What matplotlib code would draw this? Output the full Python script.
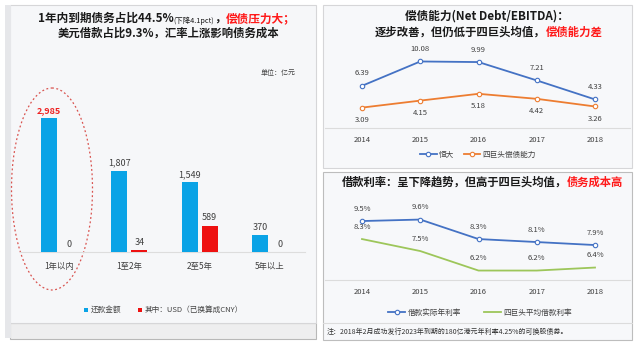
import matplotlib
matplotlib.use("Agg")
import matplotlib.pyplot as plt
from matplotlib.patches import Rectangle, Ellipse
import numpy as np

plt.rcParams['font.family'] = ['Noto Sans CJK SC', 'DejaVu Sans']

# ---------------- data ----------------
maturity_cats = ["1年以内", "1至2年", "2至5年", "5年以上"]
repay_total = [2985, 1807, 1549, 370]
repay_usd = [0, 34, 589, 0]

years = [2014, 2015, 2016, 2017, 2018]
evergrande_nd_ebitda = [6.39, 10.08, 9.99, 7.21, 4.33]
big4_nd_ebitda = [3.09, 4.15, 5.18, 4.42, 3.26]

evergrande_rate = [9.5, 9.6, 8.3, 8.1, 7.9]
big4_rate = [8.3, 7.5, 6.2, 6.2, 6.4]

W, H = 640, 348
fig = plt.figure(figsize=(6.4, 3.48), dpi=100, facecolor='white')

def fx(x): return x / W
def fy(y): return 1 - y / H
def rect(x0, y0, x1, y1):
    return [fx(x0), fy(y1), (x1 - x0) / W, (y1 - y0) / H]

bg = fig.add_axes([0, 0, 1, 1], zorder=0)
bg.set_xlim(0, W); bg.set_ylim(H, 0); bg.axis('off')

# panels
bg.add_patch(Rectangle((10, 323), 306, 16, facecolor='#eeeeef', edgecolor='#b8b8b8', lw=0.8))
bg.add_patch(Rectangle((10, 5), 306, 318, facecolor='#f6f7f9', edgecolor='#d6d6d8', lw=0.8))
bg.add_patch(Rectangle((5, 5), 6, 333, facecolor='#e6e7ea', edgecolor='none'))
bg.add_patch(Rectangle((323, 5), 309, 163, facecolor='#f7f8fa', edgecolor='#d6d6d8', lw=0.8))
bg.add_patch(Rectangle((323, 172), 309, 168, facecolor='#f7f8fa', edgecolor='#bdbdbd', lw=0.8))
bg.plot([323, 632], [323, 323], color='#dcdcdc', lw=0.8)

BLACK = '#1a1a1a'
RED = '#ff1a1a'

def chain(pieces, x, y):
    """pieces: list of (text, size, color, weight)"""
    prev = None
    for s, size, color, weight in pieces:
        if prev is None:
            prev = bg.text(x, y, s, fontsize=size, color=color, fontweight=weight,
                           ha='left', va='baseline')
        else:
            prev = bg.annotate(s, xy=(1, 0), xycoords=prev, fontsize=size, color=color,
                               fontweight=weight, ha='left', va='bottom')

# ---------------- left panel titles ----------------
chain([("1年内到期债务占比44.5%", 8.4, BLACK, 'bold'),
       ("(下降4.1pct)", 5.3, BLACK, 'normal'),
       ("，", 8.4, BLACK, 'bold'),
       ("偿债压力大；", 8.4, RED, 'bold')], 38, 22)
chain([("美元借款占比9.3%，汇率上涨影响债务成本", 8.2, BLACK, 'bold')], 58, 37)
bg.text(296, 73, "单位：亿元", fontsize=5, color='#444444', ha='right', va='center')

# ---------------- left bar chart ----------------
axL = fig.add_axes(rect(20, 80, 305, 252), zorder=2)
axL.patch.set_alpha(0)
x = np.arange(len(maturity_cats))
spacing = 70.33
axL.set_xlim((20 - 59) / spacing, (305 - 59) / spacing)
axL.set_ylim(0, 172 / 134 * 2985)
bw = 16 / spacing
off = 10 / spacing
axL.bar(x - off, repay_total, width=bw, color='#0aa3e6', zorder=3)
axL.bar(x + off, repay_usd, width=bw, color='#ee1111', zorder=3)
for i, v in enumerate(repay_total):
    if i == 0:
        axL.text(x[i] - off, v + 70, f"{v:,}", ha='center', va='bottom', fontsize=6.5,
                 color='#ee2222', fontweight='bold')
    else:
        axL.text(x[i] - off, v + 70, f"{v:,}", ha='center', va='bottom', fontsize=6.5,
                 color='#404040')
for i, v in enumerate(repay_usd):
    axL.text(x[i] + off, v + 70, f"{v:,}", ha='center', va='bottom', fontsize=6.5,
             color='#404040')
for s in ['top', 'right', 'left']:
    axL.spines[s].set_visible(False)
axL.spines['bottom'].set_color('#dddddd')
axL.spines['bottom'].set_linewidth(0.8)
axL.set_yticks([])
axL.set_xticks(x)
axL.set_xticklabels(maturity_cats, fontsize=6, color='#404040')
axL.tick_params(axis='x', length=0, pad=7)

# dashed ellipse
bg.add_patch(Ellipse((52, 189), 81, 202, fill=False, edgecolor='#d9534f', lw=0.9,
                     linestyle=(0, (1.5, 2)), zorder=4))

# left legend
bg.add_patch(Rectangle((84, 307.5), 4, 4, facecolor='#0aa3e6', edgecolor='none'))
bg.text(91, 310, "还款金额", fontsize=5.5, color='#444444', va='center', ha='left')
bg.add_patch(Rectangle((138, 307.5), 4, 4, facecolor='#ee1111', edgecolor='none'))
bg.text(145, 310, "其中：USD（已换算成CNY）", fontsize=5.5, color='#444444', va='center', ha='left')

# ---------------- right top ----------------
bg.text(487, 16, "偿债能力(Net Debt/EBITDA)：", fontsize=8.4, color=BLACK,
        fontweight='bold', ha='center', va='center')
chain([("逐步改善，但仍低于四巨头均值，", 8.2, BLACK, 'bold'),
       ("偿债能力差", 8.2, RED, 'bold')], 375, 36)

axT = fig.add_axes(rect(325, 45, 630, 128), zorder=2)
axT.patch.set_alpha(0)
sp = 58.25
axT.set_xlim(2014 + (325 - 362) / sp, 2014 + (630 - 362) / sp)
axT.set_ylim(0, 83 / 6.6)
BLUE_L = '#4472c4'
ORANGE = '#ed7d31'
axT.plot(years, evergrande_nd_ebitda, color=BLUE_L, lw=1.3, marker='o', ms=3.2,
         mfc='white', mec=BLUE_L, mew=0.8, zorder=3, label='恒大')
axT.plot(years, big4_nd_ebitda, color=ORANGE, lw=1.3, marker='o', ms=3.2,
         mfc='white', mec=ORANGE, mew=0.8, zorder=3, label='四巨头偿债能力')
for xx, v in zip(years, evergrande_nd_ebitda):
    axT.annotate(f"{v:.2f}", (xx, v), xytext=(0, 6), textcoords='offset points',
                 ha='center', va='bottom', fontsize=5.5, color='#404040')
for xx, v in zip(years, big4_nd_ebitda):
    axT.annotate(f"{v:.2f}", (xx, v), xytext=(0, -6), textcoords='offset points',
                 ha='center', va='top', fontsize=5.5, color='#404040')
for s in ['top', 'right', 'left']:
    axT.spines[s].set_visible(False)
axT.spines['bottom'].set_color('#dcdcdc')
axT.set_yticks([])
axT.set_xticks(years)
axT.set_xticklabels([str(y) for y in years], fontsize=5.5, color='#404040')
axT.tick_params(axis='x', length=0, pad=6)
axT.legend(loc='center', bbox_to_anchor=(fx(478), fy(155)), bbox_transform=fig.transFigure,
           ncol=2, frameon=False, fontsize=5.5, handlelength=2.2, columnspacing=1.2,
           handletextpad=0.3, labelcolor='#404040')

# ---------------- right bottom ----------------
chain([("借款利率：呈下降趋势，但高于四巨头均值，", 8.15, BLACK, 'bold'),
       ("债务成本高", 8.15, RED, 'bold')], 342, 186)

axB = fig.add_axes(rect(325, 200, 630, 280), zorder=2)
axB.patch.set_alpha(0)
axB.set_xlim(2014 + (325 - 362) / sp, 2014 + (630 - 362) / sp)
ymin = 5.57
axB.set_ylim(ymin, ymin + 80 / 15)
GREEN = '#9dc65a'
axB.plot(years, evergrande_rate, color=BLUE_L, lw=1.3, marker='o', ms=3.2,
         mfc='white', mec=BLUE_L, mew=0.8, zorder=3, label='借款实际年利率')
axB.plot(years, big4_rate, color=GREEN, lw=1.3, zorder=3, label='四巨头平均借款利率')
for xx, v in zip(years, evergrande_rate):
    axB.annotate(f"{v:.1f}%", (xx, v), xytext=(0, 6), textcoords='offset points',
                 ha='center', va='bottom', fontsize=5.5, color='#404040')
for xx, v in zip(years, big4_rate):
    axB.annotate(f"{v:.1f}%", (xx, v), xytext=(0, 6), textcoords='offset points',
                 ha='center', va='bottom', fontsize=5.5, color='#404040')
for s in ['top', 'right', 'left']:
    axB.spines[s].set_visible(False)
axB.spines['bottom'].set_color('#dcdcdc')
axB.set_yticks([])
axB.set_xticks(years)
axB.set_xticklabels([str(y) for y in years], fontsize=5.5, color='#404040')
axB.tick_params(axis='x', length=0, pad=6)
axB.legend(loc='center', bbox_to_anchor=(fx(480), fy(313)), bbox_transform=fig.transFigure,
           ncol=2, frameon=False, fontsize=5.5, handlelength=2.2, columnspacing=3.0,
           handletextpad=0.3, labelcolor='#404040')

bg.text(327, 332, "注：2018年2月成功发行2023年到期的180亿港元年利率4.25%的可换股债券。",
        fontsize=5, color='#333333', ha='left', va='center')

fig.savefig("out.png", dpi=100, facecolor='white')
